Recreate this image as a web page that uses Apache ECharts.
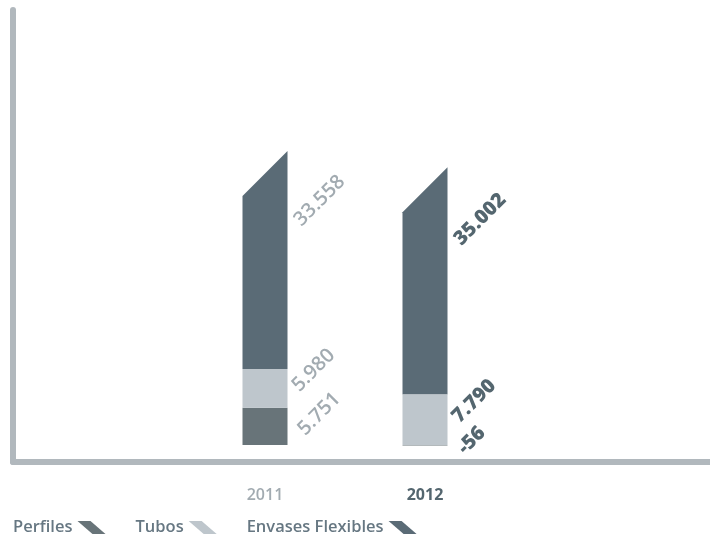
<!DOCTYPE html>
<html>
<head>
<meta charset="utf-8">
<script src="https://cdn.jsdelivr.net/npm/echarts@6/dist/echarts.min.js"></script>
<style>
  html, body { margin: 0; padding: 0; background: #fff; }
  #chart { width: 710px; height: 538px; }
</style>
</head>
<body>
<div id="chart"></div>
<script>
// datos
var years = ['2011', '2012']
var perfiles = [5751, -56]
var tubos = [5980, 7790]
var envases = [33558, 35002]

var seriesNames = ['Perfiles', 'Tubos', 'Envases Flexibles']
var colors = ['#687479', '#bec6cc', '#5a6b76']
var labelColors = ['#a2abb1', '#54666f'] // 2011 claro, 2012 oscuro
var labelWeights = ['600', '800']

var BAR_W = 45
var FONT = '"Open Sans", "Noto Sans", sans-serif'
var legendIcon = 'path://M0,0L13,0L28,13L15,13Z'

function fmt (v) {
  var s = String(Math.abs(v)).replace(/\B(?=(\d{3})+(?!\d))/g, '.')
  return (v < 0 ? '-' : '') + s
}

function barData (arr) {
  return arr.map(function (v, i) {
    return {
      value: v,
      label: { color: labelColors[i], fontWeight: labelWeights[i] }
    }
  })
}

// base de la serie superior = suma positiva de las de abajo
var envasesData = envases.map(function (v, i) {
  var base = Math.max(perfiles[i], 0) + Math.max(tubos[i], 0)
  return [i, base, base + v, v]
})

var chart = echarts.init(document.getElementById('chart'))
chart.setOption({
  animation: false,
  grid: [
    { left: 185, right: 205, top: 10, bottom: 76 },
    { left: 13, right: 0, top: 10, bottom: 76 }
  ],
  legend: {
    left: 8,
    top: 514,
    align: 'right',
    itemWidth: 28,
    itemHeight: 13,
    itemGap: 30,
    selectedMode: false,
    textStyle: { color: '#667782', fontSize: 16.5, fontWeight: '600', fontFamily: FONT },
    data: seriesNames.map(function (n) { return { name: n, icon: legendIcon } })
  },
  xAxis: [
    {
      type: 'category',
      gridIndex: 0,
      data: years,
      axisLine: { show: false },
      axisTick: { show: false },
      axisLabel: {
        margin: 25,
        formatter: function (v, i) { return '{y' + i + '|' + v + '}' },
        rich: {
          y0: { color: labelColors[0], fontSize: 16, fontWeight: '600', fontFamily: FONT },
          y1: { color: labelColors[1], fontSize: 16, fontWeight: '700', fontFamily: FONT }
        }
      }
    },
    {
      type: 'value',
      gridIndex: 1,
      min: 0,
      max: 1,
      axisLine: { show: true, lineStyle: { color: '#b1b8bd', width: 6 } },
      axisTick: { show: false },
      axisLabel: { show: false },
      splitLine: { show: false }
    }
  ],
  yAxis: [
    {
      type: 'value',
      gridIndex: 0,
      min: -2600,
      max: 67000,
      show: false
    },
    {
      type: 'value',
      gridIndex: 1,
      min: 0,
      max: 1,
      axisLine: { show: true, lineStyle: { color: '#b1b8bd', width: 6 } },
      axisTick: { show: false },
      axisLabel: { show: false },
      splitLine: { show: false }
    }
  ],
  series: [
    {
      name: seriesNames[0],
      type: 'bar',
      stack: 'total',
      barWidth: BAR_W,
      itemStyle: { color: colors[0] },
      label: {
        show: true,
        position: 'right',
        distance: 8,
        rotate: 45,
        align: 'left',
        verticalAlign: 'middle',
        offset: [0, 8],
        fontSize: 20,
        fontFamily: FONT,
        formatter: function (p) { return fmt(p.value) }
      },
      data: barData(perfiles)
    },
    {
      name: seriesNames[1],
      type: 'bar',
      stack: 'total',
      barWidth: BAR_W,
      itemStyle: { color: colors[1] },
      label: {
        show: true,
        position: 'right',
        distance: 8,
        rotate: 45,
        align: 'left',
        verticalAlign: 'middle',
        fontSize: 20,
        fontFamily: FONT,
        formatter: function (p) { return fmt(p.value) }
      },
      data: barData(tubos)
    },
    {
      name: seriesNames[2],
      type: 'custom',
      itemStyle: { color: colors[2] },
      encode: { x: 0, y: [1, 2] },
      renderItem: function (params, api) {
        var i = api.value(0)
        var bottom = api.coord([i, api.value(1)])
        var top = api.coord([i, api.value(2)])
        var x0 = bottom[0] - BAR_W / 2
        var x1 = bottom[0] + BAR_W / 2
        var yB = bottom[1]
        var yT = top[1]
        return {
          type: 'group',
          children: [
            {
              type: 'polygon',
              shape: { points: [[x0, yB], [x1, yB], [x1, yT], [x0, yT + BAR_W]] },
              style: { fill: colors[2] }
            },
            {
              type: 'text',
              x: x1 + 10,
              y: yT + (yB - yT) * 0.33,
              rotation: Math.PI / 4,
              style: {
                text: fmt(api.value(3)),
                fill: labelColors[i],
                font: labelWeights[i] + ' 20px ' + FONT,
                align: 'left',
                verticalAlign: 'middle'
              }
            }
          ]
        }
      },
      data: envasesData
    }
  ]
})
</script>
</body>
</html>
